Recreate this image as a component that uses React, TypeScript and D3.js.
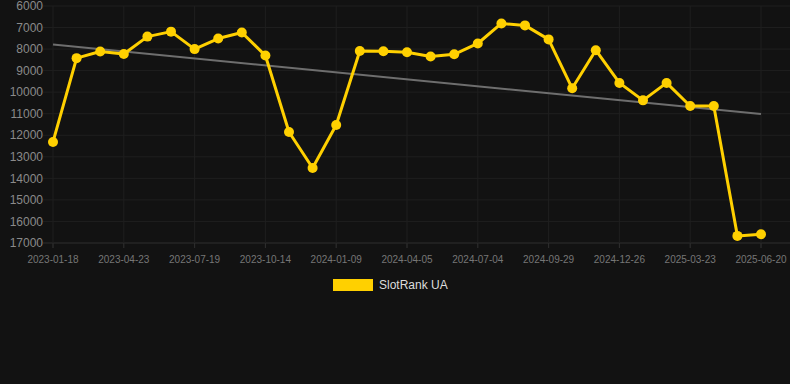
// @ts-nocheck
import { useEffect, useRef } from 'react'
import * as d3 from 'd3'

const dates = [
  '2023-01-18', '2023-02-18', '2023-03-22', '2023-04-23', '2023-05-22', '2023-06-20',
  '2023-07-19', '2023-08-17', '2023-09-15', '2023-10-14', '2023-11-12', '2023-12-11',
  '2024-01-09', '2024-02-07', '2024-03-07', '2024-04-05', '2024-05-05', '2024-06-04',
  '2024-07-04', '2024-08-02', '2024-08-31', '2024-09-29', '2024-10-28', '2024-11-27',
  '2024-12-26', '2025-01-24', '2025-02-22', '2025-03-23', '2025-04-21', '2025-05-21',
  '2025-06-20',
]

const ranks = [
  12310, 8420, 8110, 8230, 7420, 7190, 8000, 7510, 7230, 8300, 11850, 13520,
  11520, 8090, 8100, 8150, 8340, 8240, 7740, 6810, 6900, 7550, 9820, 8050,
  9570, 10380, 9570, 10640, 10640, 16670, 16590,
]

const yTicks = [6000, 7000, 8000, 9000, 10000, 11000, 12000, 13000, 14000, 15000, 16000, 17000]
const seriesName = 'SlotRank UA'

export default function App() {
  const svgRef = useRef<any>()
  const W = 790
  const H = 384
  const margin = { top: 6, right: 29, bottom: 141, left: 53 }

  useEffect(() => {
    document.body.style.margin = '0'
    const svg = d3.select(svgRef.current)
    svg.selectAll('*').remove()

    const font = 'Liberation Sans, Arial, Helvetica, sans-serif'
    const x = d3.scalePoint().domain(dates).range([margin.left, W - margin.right])
    const y = d3.scaleLinear().domain([6000, 17000]).range([margin.top, H - margin.bottom])

    svg.append('rect').attr('width', W).attr('height', H).attr('fill', '#121212')

    // horizontal grid + y labels
    const gy = svg.append('g')
    gy.selectAll('line')
      .data(yTicks)
      .enter()
      .append('line')
      .attr('x1', margin.left - 10)
      .attr('x2', W)
      .attr('y1', (d) => y(d))
      .attr('y2', (d) => y(d))
      .attr('stroke', (d) => (d === 17000 ? '#2e2e2e' : '#1f1f1f'))
      .attr('stroke-width', 1)
    gy.selectAll('text')
      .data(yTicks)
      .enter()
      .append('text')
      .attr('x', 43)
      .attr('y', (d) => y(d))
      .attr('dy', '0.35em')
      .attr('text-anchor', 'end')
      .attr('fill', '#8a8a8a')
      .attr('font-family', font)
      .attr('font-size', 12)
      .text((d) => d)

    // vertical grid + x labels (every 3rd category)
    const xLabels = dates.filter((_, i) => i % 3 === 0)
    const gx = svg.append('g')
    gx.selectAll('line')
      .data(xLabels)
      .enter()
      .append('line')
      .attr('x1', (d) => x(d))
      .attr('x2', (d) => x(d))
      .attr('y1', margin.top)
      .attr('y2', H - margin.bottom + 5)
      .attr('stroke', '#1f1f1f')
    gx.selectAll('line.tick')
      .data(xLabels)
      .enter()
      .append('line')
      .attr('class', 'tick')
      .attr('x1', (d) => x(d))
      .attr('x2', (d) => x(d))
      .attr('y1', H - margin.bottom)
      .attr('y2', H - margin.bottom + 5)
      .attr('stroke', '#2e2e2e')
    gx.selectAll('text')
      .data(xLabels)
      .enter()
      .append('text')
      .attr('x', (d) => x(d))
      .attr('y', 263)
      .attr('text-anchor', 'middle')
      .attr('fill', '#767676')
      .attr('font-family', font)
      .attr('font-size', 10)
      .text((d) => d)

    // trend line (least squares)
    const n = ranks.length
    const xs = d3.range(n)
    const mx = d3.mean(xs)
    const my = d3.mean(ranks)
    const slope =
      d3.sum(xs, (i) => (i - mx) * (ranks[i] - my)) / d3.sum(xs, (i) => (i - mx) * (i - mx))
    const icpt = my - slope * mx
    svg
      .append('line')
      .attr('x1', x(dates[0]))
      .attr('y1', y(icpt))
      .attr('x2', x(dates[n - 1]))
      .attr('y2', y(icpt + slope * (n - 1)))
      .attr('stroke', '#6e6e6e')
      .attr('stroke-width', 2)

    // series line
    const line = d3
      .line<number>()
      .x((_, i) => x(dates[i]))
      .y((d) => y(d))
    svg
      .append('path')
      .datum(ranks)
      .attr('d', line)
      .attr('fill', 'none')
      .attr('stroke', '#FFD000')
      .attr('stroke-width', 3)
      .attr('stroke-linejoin', 'round')

    svg
      .append('g')
      .selectAll('circle')
      .data(ranks)
      .enter()
      .append('circle')
      .attr('cx', (_, i) => x(dates[i]))
      .attr('cy', (d) => y(d))
      .attr('r', 5)
      .attr('fill', '#FFD000')

    // legend
    const lg = svg.append('g')
    lg.append('rect').attr('x', 333).attr('y', 279).attr('width', 40).attr('height', 12).attr('fill', '#FFD000')
    lg.append('text')
      .attr('x', 379)
      .attr('y', 285)
      .attr('dy', '0.35em')
      .attr('fill', '#dddddd')
      .attr('font-family', font)
      .attr('font-size', 12)
      .text(seriesName)
  }, [])

  return <svg ref={svgRef} width={W} height={H} style={{ display: 'block' }}></svg>
}
